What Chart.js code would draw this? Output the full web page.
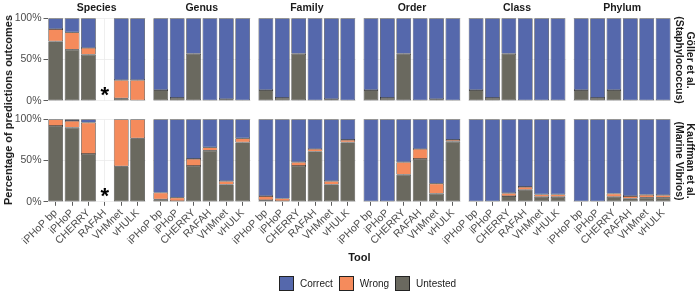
<!DOCTYPE html>
<html>
<head>
<meta charset="utf-8">
<script src="https://cdn.jsdelivr.net/npm/chart.js@4/dist/chart.umd.min.js"></script>
<style>
body { margin: 0; background: #fff; font-family: "Liberation Sans", Arial, sans-serif; }
#wrap { position: relative; width: 700px; height: 292px; overflow: hidden; }
#wrap canvas { position: absolute; }
.lbl { position: absolute; white-space: nowrap; color: #1a1a1a; transform: translate(-50%, -50%); }
.strip { font-weight: bold; font-size: 10.5px; }
.title { font-weight: bold; font-size: 11px; }
.rot { text-align: center; line-height: 11px; }
#legend { position: absolute; left: 279px; top: 276px; display: flex; align-items: center; font-size: 10px; color: #1a1a1a; }
#legend span.box { width: 13px; height: 13px; border: 0.8px solid #222; display: inline-block; margin-right: 6px; }
#legend span.txt { margin-right: 6px; }
</style>
</head>
<body>
<div id="wrap"></div>
<script>
// tools on the x axis, taxonomic ranks as columns, datasets as rows
var tools = ['iPHoP bp', 'iPHoP', 'CHERRY', 'RAFAH', 'VHMnet', 'vHULK'];
var ranks = ['Species', 'Genus', 'Family', 'Order', 'Class', 'Phylum'];
var studies = [['Göller et al.', '(Staphylococcus)'], ['Kauffman et al.', '(Marine Vibrios)']];
var yTicks = [0, 50, 100];

// Göller et al. (Staphylococcus), % of predictions, one row per rank
var gollerUntested = [
  [72, 62, 56, null, 3, 0],
  [13, 3.5, 57, 0, 2, 0],
  [13, 3.5, 57, 0, 2, 0],
  [13, 3.5, 57, 0, 2, 0],
  [13, 3.5, 57, 0, 0, 0],
  [13, 3.5, 13, 0, 0, 0]
];
var gollerWrong = [
  [15, 21, 8, null, 22, 25],
  [0, 0, 0, 0, 0, 0],
  [0, 0, 0, 0, 0, 0],
  [0, 0, 0, 0, 0, 0],
  [0, 0, 0, 0, 0, 0],
  [0, 0, 0, 0, 0, 0]
];
var gollerCorrect = [
  [13, 17, 36, null, 75, 75],
  [87, 96.5, 43, 100, 98, 100],
  [87, 96.5, 43, 100, 98, 100],
  [87, 96.5, 43, 100, 98, 100],
  [87, 96.5, 43, 100, 100, 100],
  [87, 96.5, 87, 100, 100, 100]
];

// Kauffman et al. (Marine Vibrios)
var kauffmanUntested = [
  [92, 90, 58, null, 43, 77],
  [3, 1, 43.5, 62, 21, 72],
  [2, 1, 43.5, 61, 21, 72],
  [0, 0, 33, 52, 10, 73],
  [0, 0, 7, 14.5, 6, 6],
  [0, 0, 6, 4, 5, 5]
];
var kauffmanWrong = [
  [8, 8, 38, null, 57, 23],
  [8, 4, 8.5, 4, 4, 5],
  [5, 3, 4.5, 3, 4, 3],
  [0, 0, 15, 12, 12, 2],
  [0, 0, 3.5, 3.5, 3, 3],
  [0, 0, 4, 3, 3.5, 3]
];
var kauffmanCorrect = [
  [0, 2, 4, null, 0, 0],
  [89, 95, 48, 34, 75, 23],
  [93, 96, 52, 36, 75, 25],
  [100, 100, 52, 36, 78, 25],
  [100, 100, 89.5, 82, 91, 91],
  [100, 100, 90, 93, 91.5, 92]
];

var untested = [gollerUntested, kauffmanUntested];
var wrong = [gollerWrong, kauffmanWrong];
var correct = [gollerCorrect, kauffmanCorrect];

var COLORS = { correct: '#5568AC', wrong: '#F58B5C', untested: '#6A695F' };

Chart.defaults.font.family = '"Liberation Sans", Arial, sans-serif';
Chart.defaults.color = '#4D4D4D';

// panel geometry
var colLeft = [47.5, 152.6, 257.7, 362.8, 467.9, 573];
var rowTop = [18.3, 119.3];
var panelW = 98.3, panelH = 82.5;
var yW = 40, xH = 52;

var wrap = document.getElementById('wrap');

// star where a tool gives no prediction
var missingStar = {
  id: 'missingStar',
  afterDatasetsDraw: function(chart) {
    var ctx = chart.ctx;
    var xs = chart.scales.x, ys = chart.scales.y;
    chart.data.datasets[0].data.forEach(function(v, i) {
      if (v !== null) return;
      ctx.save();
      ctx.font = 'bold 22px "Liberation Sans", Arial, sans-serif';
      ctx.fillStyle = '#000';
      ctx.textAlign = 'center';
      ctx.textBaseline = 'alphabetic';
      var m = ctx.measureText('*');
      var cy = ys.getPixelForValue(11);
      ctx.fillText('*', xs.getPixelForValue(i), cy + (m.actualBoundingBoxAscent - m.actualBoundingBoxDescent) / 2);
      ctx.restore();
    });
  }
};

function addLabel(text, x, y, cls, rotate) {
  var d = document.createElement('div');
  d.className = 'lbl ' + cls;
  d.innerHTML = text;
  d.style.left = x + 'px';
  d.style.top = y + 'px';
  if (rotate) d.style.transform = 'translate(-50%, -50%) rotate(' + rotate + 'deg)';
  wrap.appendChild(d);
}

function makePanel(row, col) {
  var first = col === 0, bottom = row === 1;
  var left = Math.floor(colLeft[col]) - 40;
  var top = Math.floor(rowTop[row]) - 8;
  var padLeft = colLeft[col] - left - (first ? yW : 0);
  var padTop = rowTop[row] - top;
  var axisH = bottom ? xH : 0;
  var width = Math.ceil(colLeft[col] - left + panelW + 2);
  var height = Math.ceil(padTop + panelH + axisH) + (bottom ? 1 : 9);
  var padRight = width - (colLeft[col] - left) - panelW;
  var padBottom = height - padTop - panelH - axisH;

  var canvas = document.createElement('canvas');
  canvas.width = width;
  canvas.height = height;
  canvas.style.left = left + 'px';
  canvas.style.top = top + 'px';
  wrap.appendChild(canvas);

  var seg = { borderColor: '#1a1a1a', borderWidth: 0.6, borderSkipped: false, barPercentage: 0.9, categoryPercentage: 1 };

  new Chart(canvas.getContext('2d'), {
    type: 'bar',
    data: {
      labels: tools,
      datasets: [
        Object.assign({ label: 'Untested', data: untested[row][col], backgroundColor: COLORS.untested }, seg),
        Object.assign({ label: 'Wrong', data: wrong[row][col], backgroundColor: COLORS.wrong }, seg),
        Object.assign({ label: 'Correct', data: correct[row][col], backgroundColor: COLORS.correct }, seg)
      ]
    },
    options: {
      responsive: false,
      animation: false,
      devicePixelRatio: 1,
      layout: { padding: { left: padLeft, top: padTop, right: padRight, bottom: padBottom } },
      plugins: { legend: { display: false }, tooltip: { enabled: false } },
      scales: {
        x: {
          stacked: true,
          border: { display: false },
          grid: { offset: false, color: '#EBEBEB', lineWidth: 0.8, drawTicks: bottom, tickColor: '#333', tickLength: 4, tickWidth: 0.8 },
          ticks: { display: bottom, autoSkip: false, minRotation: 45, maxRotation: 45, padding: 1, font: { size: 10.5 } },
          afterFit: function(s) { s.height = axisH; s.paddingLeft = 0; s.paddingRight = 0; }
        },
        y: {
          stacked: true,
          min: 0,
          max: 100,
          afterBuildTicks: function(s) { s.ticks = yTicks.map(function(v) { return { value: v }; }); },
          border: { display: false },
          grid: { color: '#EBEBEB', lineWidth: 0.8, drawTicks: first, tickColor: '#333', tickLength: 4, tickWidth: 0.8 },
          ticks: { display: first, padding: 2, font: { size: 10.5 }, callback: function(v) { return v + '%'; } },
          afterFit: function(s) { s.width = first ? yW : 0; s.paddingTop = 0; s.paddingBottom = 0; }
        }
      }
    },
    plugins: [missingStar]
  });
}

for (var r = 0; r < 2; r++) {
  for (var c = 0; c < 6; c++) makePanel(r, c);
}

// strip labels
ranks.forEach(function(name, c) {
  addLabel(name, colLeft[c] + panelW / 2, 7, 'strip');
});
studies.forEach(function(lines, r) {
  addLabel(lines.join('<br>'), 685, rowTop[r] + panelH / 2, 'strip rot', 90);
});

// axis titles
addLabel('Percentage of predictions outcomes', 8, 110, 'title', -90);
addLabel('Tool', colLeft[0] + (colLeft[5] + panelW - colLeft[0]) / 2, 257, 'title');

// legend
var legend = document.createElement('div');
legend.id = 'legend';
[['Correct', COLORS.correct], ['Wrong', COLORS.wrong], ['Untested', COLORS.untested]].forEach(function(item) {
  legend.innerHTML += '<span class="box" style="background:' + item[1] + '"></span><span class="txt">' + item[0] + '</span>';
});
wrap.appendChild(legend);
</script>
</body>
</html>
